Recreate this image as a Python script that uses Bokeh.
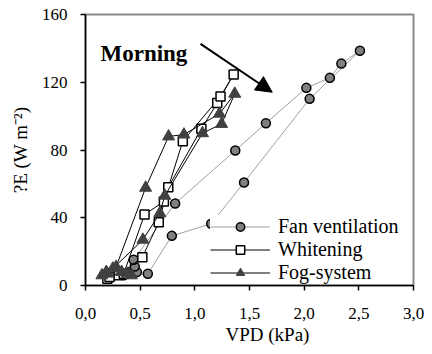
from bokeh.plotting import figure
from bokeh.models import Range1d, FixedTicker, Label, Arrow, NormalHead, Legend, Title
from bokeh.embed import file_html
from bokeh.resources import INLINE

# ---- data (VPD in kPa, E in W m-2) ----
fan_vpd = [0.25, 0.39, 0.47, 0.45, 0.44, 0.82, 1.37, 1.65, 2.02, 2.235, 2.34, 2.51, 2.05, 1.45, 1.15, 0.79, 0.57, 0.35]
fan_e = [6, 7.3, 7.9, 11.2, 15.2, 48.4, 79.7, 95.8, 116.7, 122.6, 131, 138.6, 110.2, 60.8, 36.5, 29.3, 6.9, 6]

wh_vpd = [0.2, 0.3, 0.52, 0.67, 0.757, 1.06, 1.205, 1.355, 1.235, 0.89, 0.717, 0.54, 0.35, 0.22]
wh_e = [4, 6, 16.7, 37.4, 58, 92.5, 107.8, 124.6, 111.6, 85.2, 49.6, 41.9, 7, 5]

fog_vpd = [0.15, 0.19, 0.25, 0.525, 0.68, 0.725, 1.07, 1.245, 1.365, 1.225, 0.9, 0.76, 0.55, 0.28, 0.33, 0.38, 0.42, 0.2]
fog_e = [6, 8, 10, 27, 42.7, 53, 89.9, 95.4, 113.2, 101.4, 89.1, 88, 57.7, 11, 8, 7, 6, 7]

x_ticks = [0, 0.5, 1.0, 1.5, 2.0, 2.5, 3.0]
x_tick_labels = ["0,0", "0,5", "1,0", "1,5", "2,0", "2,5", "3,0"]
y_ticks = [0, 40, 80, 120, 160]

FONT = "'Liberation Serif'"

p = figure(frame_width=328, frame_height=271, output_backend="svg", toolbar_location=None,
           x_range=Range1d(0, 3), y_range=Range1d(0, 160))
p.min_border_left = 85
p.min_border_right = 11
p.min_border_top = 14
p.min_border_bottom = 64
p.background_fill_color = "white"
p.border_fill_color = "white"
p.outline_line_color = "#888888"
p.outline_line_width = 2
p.xgrid.visible = False
p.ygrid.visible = False

for ax in (p.xaxis[0], p.yaxis[0]):
    ax.axis_line_color = "black"
    ax.axis_line_width = 1.5
    ax.major_tick_line_color = "black"
    ax.major_tick_line_width = 1.5
    ax.major_tick_out = 5
    ax.major_tick_in = 0
    ax.minor_tick_line_color = None
    ax.major_label_text_font = FONT
    ax.major_label_text_font_size = "17px"
    ax.major_label_text_color = "black"
    ax.axis_label_text_font = FONT
    ax.axis_label_text_font_size = "19px"
    ax.axis_label_text_font_style = "normal"
    ax.axis_label_text_color = "black"

p.xaxis[0].ticker = FixedTicker(ticks=x_ticks)
p.xaxis[0].major_label_overrides = {t: s for t, s in zip(x_ticks, x_tick_labels)}
p.xaxis[0].major_label_standoff = 17
p.yaxis[0].ticker = FixedTicker(ticks=y_ticks)
p.yaxis[0].major_label_standoff = 13
p.yaxis[0].axis_label = "?E (W m\u207b\u00b2)"
p.yaxis[0].axis_label_standoff = 8

p.add_layout(Title(text="VPD (kPa)", align="left", offset=140, standoff=0,
                   text_font=FONT, text_font_size="19px", text_font_style="normal",
                   text_color="black"), "below")

# series
r_fan_l = p.line(fan_vpd, fan_e, line_color="#a0a0a0", line_width=1)
r_fan_m = p.scatter(fan_vpd, fan_e, marker="circle", size=9, fill_color="#808080",
                    line_color="black", line_width=1.5)
r_wh_l = p.line(wh_vpd, wh_e, line_color="black", line_width=1)
r_wh_m = p.scatter(wh_vpd, wh_e, marker="square", size=9, fill_color="white",
                   line_color="black", line_width=1.5)
r_fog_l = p.line(fog_vpd, fog_e, line_color="black", line_width=1)
r_fog_m = p.scatter(fog_vpd, fog_e, marker="triangle", size=12, fill_color="#404040",
                    line_color="#404040", line_width=1)

legend = Legend(items=[("Fan ventilation", [r_fan_l, r_fan_m]),
                       ("Whitening", [r_wh_l, r_wh_m]),
                       ("Fog-system", [r_fog_l, r_fog_m])],
                location=(125, 1))
legend.label_text_font = FONT
legend.label_text_font_size = "20px"
legend.label_text_color = "black"
legend.glyph_width = 60
legend.glyph_height = 21
legend.label_height = 21
legend.spacing = 0
legend.padding = 5
legend.margin = 0
legend.label_standoff = 8
legend.border_line_color = None
legend.background_fill_color = "white"
legend.background_fill_alpha = 1
p.add_layout(legend, "center")

# arrow + Morning
p.add_layout(Arrow(end=NormalHead(size=16, fill_color="black", line_color="black"),
                   x_start=1.052, y_start=142.7, x_end=1.708, y_end=114.1,
                   line_color="black", line_width=2))
p.add_layout(Label(x=0.137, y=137.0, text="Morning", text_font=FONT,
                   text_font_size="23px", text_font_style="bold",
                   text_baseline="alphabetic", text_align="left", text_color="black"))

open("out.html", "w").write(file_html(p, INLINE))
